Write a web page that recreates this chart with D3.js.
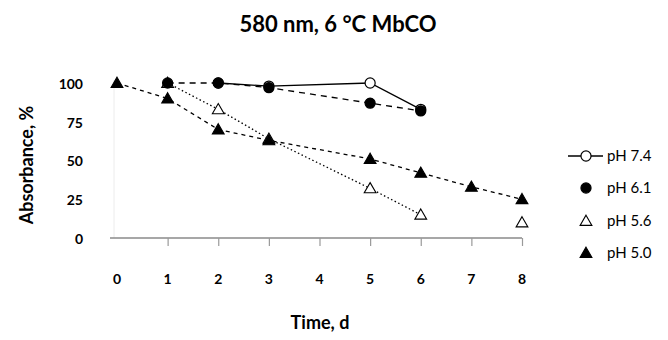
<!DOCTYPE html>
<html><head><meta charset="utf-8">
<script src="https://cdn.jsdelivr.net/npm/d3@7"></script>
<style>
html,body{margin:0;padding:0;background:#fff;}
svg{display:block;font-family:Lato,"Open Sans",sans-serif;}
</style></head>
<body>
<script>
// ---- data ----
const days = [0, 1, 2, 3, 5, 6, 7, 8];
const xTicks = [0, 1, 2, 3, 4, 5, 6, 7, 8];
const yTicks = [0, 25, 50, 75, 100];
const seriesNames = ["pH 7.4", "pH 6.1", "pH 5.6", "pH 5.0"];
const pH74 = [null, null, 100, 98, 100, 83, null, null];
const pH61 = [null, 100, 100, 97, 87, 82, null, null];
const pH56 = [null, 100, 83, 64, 32, 15, null, 10];
const pH50 = [100, 90, 70, 63, 51, 42, 33, 25];

const W = 668, H = 340;
const svg = d3.select("body").append("svg").attr("width", W).attr("height", H);

const x = d3.scaleLinear().domain([0, 8]).range([117, 522]);
const y = d3.scaleLinear().domain([0, 100]).range([238, 83]);

// title
svg.append("text").attr("x", 338).attr("y", 32).attr("text-anchor", "middle")
  .attr("font-size", 22).attr("font-weight", "bold").text("580 nm, 6 °C MbCO");

// y axis faint line
svg.append("line").attr("x1", 114).attr("x2", 114).attr("y1", 80).attr("y2", 238)
  .attr("stroke", "#ececec").attr("stroke-width", 1);

// x axis
const xAxis = d3.axisBottom(x).tickValues(xTicks.filter(d => d > 0)).tickSize(8).tickFormat("");
const gx = svg.append("g").attr("transform", "translate(0,238)").call(xAxis);
gx.select(".domain").attr("d", "M110,0H522").attr("stroke", "#8a8a8a").attr("stroke-width", 1.3);
gx.selectAll(".tick line").attr("stroke", "#9a9a9a").attr("stroke-width", 1.2);

// x tick labels
svg.append("g").selectAll("text").data(xTicks).join("text")
  .attr("x", d => x(d)).attr("y", 284).attr("text-anchor", "middle")
  .attr("font-size", 14).attr("font-weight", "bold").text(d => d);

// y tick labels
const yAxis = d3.axisLeft(y).tickValues(yTicks).tickSize(0).tickPadding(0);
const gy = svg.append("g").attr("transform", "translate(83,1)").call(yAxis);
gy.select(".domain").remove();
gy.selectAll("text").attr("font-size", 14).attr("font-family", "Lato,'Open Sans',sans-serif")
  .attr("font-weight", "bold").attr("fill", "#000");

// axis titles
svg.append("text").attr("x", 320).attr("y", 329).attr("text-anchor", "middle")
  .attr("font-size", 18).attr("font-weight", "bold").text("Time, d");
svg.append("text").attr("transform", "translate(33,165) rotate(-90)").attr("text-anchor", "middle")
  .attr("font-size", 18).attr("font-weight", "bold").text("Absorbance, %");

// series
const series = [
  { name: seriesNames[0], vals: pH74, dash: null, marker: "circle", fill: "#fff" },
  { name: seriesNames[1], vals: pH61, dash: "6,5", marker: "circle", fill: "#000" },
  { name: seriesNames[2], vals: pH56, dash: "1.5,2.5", marker: "triangle", fill: "#fff" },
  { name: seriesNames[3], vals: pH50, dash: "4,4", marker: "triangle", fill: "#000" }
];

const line = d3.line().defined(d => d.v !== null).x(d => x(d.d)).y(d => y(d.v));
const tri = d3.symbol().type(d3.symbolTriangle).size(60);
const circ = d3.symbol().type(d3.symbolCircle).size(80);

function marker(g, s) {
  if (s.marker === "circle") {
    g.append("path").attr("d", circ()).attr("fill", s.fill).attr("stroke", "#000").attr("stroke-width", 1.2);
  } else {
    g.append("path").attr("d", tri()).attr("transform", "translate(0,1)")
      .attr("fill", s.fill).attr("stroke", "#000").attr("stroke-width", 1.1);
  }
}

series.forEach(s => {
  const pts = days.map((d, i) => ({ d: d, v: s.vals[i] }));
  svg.append("path").datum(pts).attr("d", line).attr("fill", "none")
    .attr("stroke", "#000").attr("stroke-width", 1.3)
    .attr("stroke-dasharray", s.dash);
});
// markers drawn after lines
[series[0], series[2], series[3], series[1]].forEach(s => {
  days.forEach((d, i) => {
    if (s.vals[i] === null) return;
    const g = svg.append("g").attr("transform", `translate(${x(d)},${y(s.vals[i])})`);
    marker(g, s);
  });
});

// legend
const legY = [156, 188, 221, 253];
series.forEach((s, i) => {
  const gl = svg.append("g").attr("transform", `translate(586,${legY[i]})`);
  if (i === 0) gl.append("line").attr("x1", -18).attr("x2", 17).attr("stroke", "#000").attr("stroke-width", 1.3);
  marker(gl, s);
  svg.append("text").attr("x", 607).attr("y", legY[i] + 5).attr("font-size", 15).text(s.name);
});
</script>
</body></html>
